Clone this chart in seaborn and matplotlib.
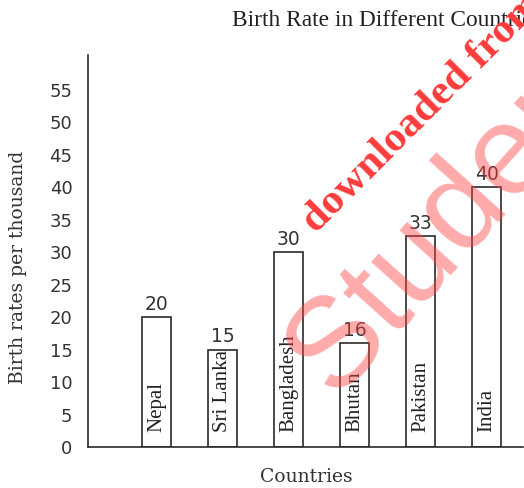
import matplotlib
matplotlib.use("Agg")
import matplotlib.pyplot as plt
import seaborn as sns
import pandas as pd

countries = ["Nepal", "Sri Lanka", "Bangladesh", "Bhutan", "Pakistan", "India"]
bar_heights = [20, 15, 30, 16, 32.5, 40]
value_labels = ["20", "15", "30", "16", "33", "40"]
y_ticks = [0, 5, 10, 15, 20, 25, 30, 35, 40, 45, 50, 55]

title = "Birth Rate in Different Countries"
x_label = "Countries"
y_label = "Birth rates per thousand"
wm1 = "downloaded from"
wm2 = "Studentbro"

sns.set_style("white")
W, H = 524, 488
fig = plt.figure(figsize=(W / 100, H / 100), dpi=100)
ax = fig.add_axes([88 / W, (H - 447) / H, (523 - 88) / W, (447 - 55) / H])

df = pd.DataFrame({"country": countries, "rate": bar_heights})
sns.barplot(data=df, x="country", y="rate", color="white", edgecolor="#2a2a2a",
            linewidth=1.2, width=0.44, saturation=1, ax=ax, zorder=2)

ax.set_xlim(-1.045, 5.55)
ax.set_ylim(0, 60.4)
ax.set_yticks(y_ticks)
ax.set_xticks([])
ax.set_xlabel("")
ax.set_ylabel("")
for s in ["top", "right"]:
    ax.spines[s].set_visible(False)
for s in ["left", "bottom"]:
    ax.spines[s].set_color("#2a2a2a")
    ax.spines[s].set_linewidth(1.2)
ax.tick_params(axis="y", direction="inout", length=11.5, width=1.0, color="#2a2a2a",
               pad=5.5, labelsize=13, labelcolor="#333333")
for lab in ax.get_yticklabels():
    lab.set_family("DejaVu Sans")

for i, (h, lab, name) in enumerate(zip(bar_heights, value_labels, countries)):
    ax.annotate(lab, (i, h), xytext=(0, 2.5), textcoords="offset points",
                ha="center", va="bottom", fontsize=13.5, color="#333333",
                family="DejaVu Sans")
    ax.text(i, 2.3, name, rotation=90, ha="center", va="bottom", fontsize=15,
            family="Liberation Serif", color="#222222")

fig.text(232 / W, 1 - 26 / H, title, ha="left", va="baseline", fontsize=16.8,
         family="Liberation Serif", color="#222222")
fig.text(18 / W, 1 - 267 / H, y_label, rotation=90, ha="center", va="center",
         fontsize=13.5, family="DejaVu Serif", color="#333333")
fig.text(306 / W, 1 - 477 / H, x_label, ha="center", va="center",
         fontsize=13.5, family="DejaVu Serif", color="#333333")

# watermark
fig.text(316 / W, 1 - 234 / H, wm1, rotation=45, rotation_mode="anchor",
         ha="left", va="baseline", fontsize=31, fontweight="bold",
         family="Liberation Serif", color="#ff3b3b", zorder=5)
fig.text(334 / W, 1 - 398 / H, wm2, rotation=48, rotation_mode="anchor",
         ha="left", va="baseline", fontsize=92,
         family="Liberation Sans", color="#ff4444", alpha=0.45, zorder=5)

fig.savefig("out.png", dpi=100)
